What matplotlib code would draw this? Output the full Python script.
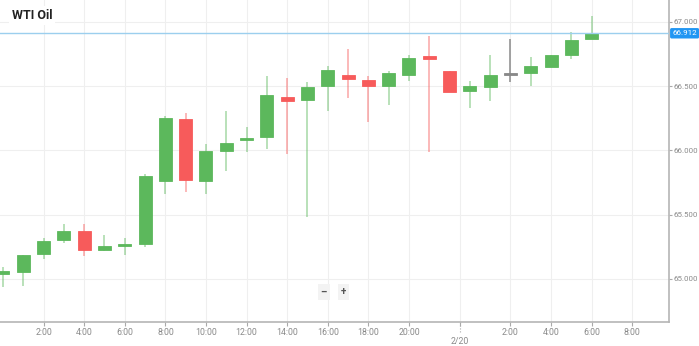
import numpy as np
import matplotlib.pyplot as plt
import matplotlib.transforms as mtransforms

plt.rcParams['font.family'] = ['Roboto', 'DejaVu Sans']

# hourly WTI candles, 2/19 00:00 -> 2/20 06:00 (session break after 22:00)
opens = [65.036, 65.054, 65.191, 65.300, 65.372, 65.225, 65.259, 65.274, 65.761, 66.241,
         65.761, 65.998, 66.080, 66.103, 66.414, 66.389, 66.500, 66.586, 66.547, 66.505,
         66.591, 66.733, 66.617, 66.461, 66.492, 66.586, 66.601, 66.651, 66.746, 66.871]
highs = [65.096, 65.190, 65.316, 65.425, 65.425, 65.344, 65.321, 65.816, 66.267, 66.288,
         66.054, 66.306, 66.184, 66.583, 66.565, 66.531, 66.661, 66.793, 66.583, 66.617,
         66.746, 66.889, 66.620, 66.544, 66.746, 66.869, 66.726, 66.745, 66.923, 67.050]
lows = [64.935, 64.945, 65.152, 65.282, 65.178, 65.217, 65.186, 65.248, 65.663, 65.679,
        65.663, 65.837, 65.987, 66.008, 65.974, 65.481, 66.306, 66.410, 66.223, 66.352,
        66.544, 65.990, 66.455, 66.332, 66.383, 66.534, 66.500, 66.648, 66.713, 66.870]
closes = [65.061, 65.186, 65.295, 65.370, 65.225, 65.256, 65.271, 65.798, 66.249, 65.769,
          65.992, 66.057, 66.099, 66.428, 66.383, 66.495, 66.628, 66.560, 66.500, 66.601,
          66.721, 66.708, 66.456, 66.498, 66.589, 66.586, 66.656, 66.741, 66.861, 66.912]

tick_pos = [2, 4, 6, 8, 10, 12, 14, 16, 18, 20, 22.5, 25, 27, 29, 31]
tick_labels = ['2:00', '4:00', '6:00', '8:00', '10:00', '12:00', '14:00', '16:00', '18:00', '20:00',
               '', '2:00', '4:00', '6:00', '8:00']
date_pos = 22.5
date_label = '2/20'
y_ticks = [65.0, 65.5, 66.0, 66.5, 67.0]
last_price = 66.912
title = 'WTI Oil'

GREEN = '#5cb85c'
RED = '#f75b5b'
GRAY = '#888888'

fig = plt.figure(figsize=(6.99, 3.46), dpi=100)
ax = fig.add_axes([0, 0.0694, 0.957, 0.9306])

o = np.array(opens); h = np.array(highs); l = np.array(lows); c = np.array(closes)
x = np.arange(len(o))
col = np.where(c > o, GREEN, np.where(c < o, RED, GRAY))

# gridlines
for t in tick_pos:
    ax.axvline(t, color='#efefef', lw=0.8, zorder=0)
for t in y_ticks:
    ax.axhline(t, color='#efefef', lw=0.8, zorder=0)

# wicks
for i in range(len(x)):
    a = 0.5 if col[i] != GRAY else 0.9
    ax.vlines(x[i], l[i], h[i], color=col[i], lw=1.2, alpha=a, zorder=2)

# bodies
bottom = np.minimum(o, c)
height = np.maximum(np.abs(c - o), 0.014)
ax.bar(x, height, bottom=bottom, width=0.64, color=col, edgecolor=col, linewidth=0.6, zorder=3)

# last price line + tag
ax.axhline(last_price, color='#9ccfee', lw=1.0, zorder=4)
ax.text(1.005, last_price, f'{last_price:.3f}', transform=ax.get_yaxis_transform(),
        ha='left', va='center', fontsize=5.7, color='white', clip_on=False, zorder=6,
        bbox=dict(boxstyle='round,pad=0.28,rounding_size=0.2', fc='#2196f3', ec='none'))

ax.set_xlim(-0.148, 32.81)
ax.set_ylim(64.665, 67.171)

ax.set_xticks(tick_pos)
ax.set_xticklabels(tick_labels)
ax.set_yticks(y_ticks)
ax.set_yticklabels([f'{t:.3f}' for t in y_ticks])
ax.yaxis.tick_right()
ax.tick_params(axis='x', length=3, width=0.8, color='#aaaaaa', labelsize=6.3, labelcolor='#8a8a8a', pad=1.5)
ax.tick_params(axis='y', length=2, width=0.8, color='#aaaaaa', labelsize=5.7, labelcolor='#8a8a8a', pad=1.5)

for s in ['top', 'left']:
    ax.spines[s].set_visible(False)
for s in ['right', 'bottom']:
    ax.spines[s].set_color('#b5b5b5')
    ax.spines[s].set_linewidth(1.2)

# date separator
trans = mtransforms.blended_transform_factory(ax.transData, ax.transAxes)
ax.plot([date_pos, date_pos], [0, -0.035], transform=trans, color='#aaaaaa', lw=0.8,
        ls=':', clip_on=False)
ax.text(date_pos, -0.048, date_label, transform=trans, ha='center', va='top',
        fontsize=6.3, color='#8a8a8a', clip_on=False)

# title
fig.text(0.017, 0.955, title, fontsize=9, fontweight='bold', color='#222222',
         ha='left', va='center', bbox=dict(fc='white', ec='none', pad=2))

# zoom buttons
ax.text(0.484, 0.094, '\u2013', transform=ax.transAxes, ha='center', va='center', fontsize=7,
        fontweight='bold', color='#555555',
        bbox=dict(boxstyle='square,pad=0.3', fc='#f3f3f3', ec='none'))
ax.text(0.513, 0.094, '+', transform=ax.transAxes, ha='center', va='center', fontsize=7,
        fontweight='bold', color='#555555',
        bbox=dict(boxstyle='square,pad=0.3', fc='#f3f3f3', ec='none'))

fig.savefig('out.png', dpi=100)
